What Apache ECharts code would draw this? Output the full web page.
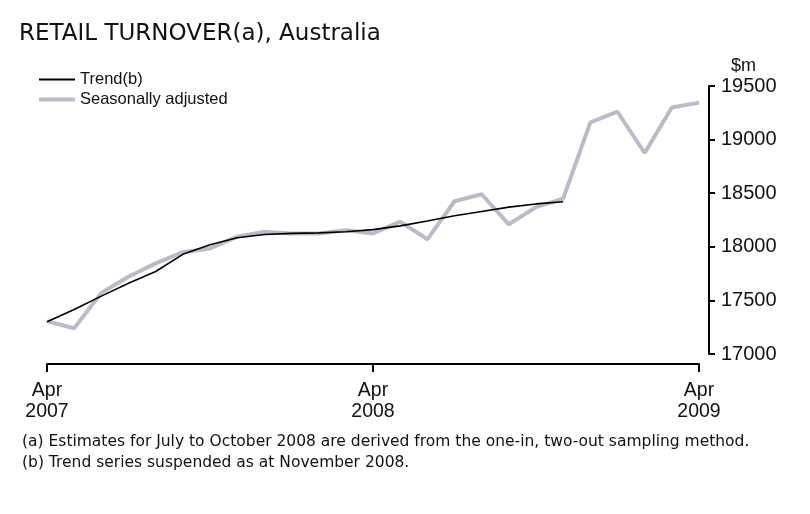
<!DOCTYPE html>
<html>
<head>
<meta charset="utf-8">
<title>Retail turnover</title>
<script src="https://cdn.jsdelivr.net/npm/echarts@6/dist/echarts.min.js"></script>
<style>
  html, body { margin: 0; padding: 0; background: #fff; }
  #main { width: 810px; height: 514px; }
</style>
</head>
<body>
<div id="main"></div>
<script type="text/javascript">
  // months, Apr 2007 .. Apr 2009
  var months = [
    'Apr 2007', 'May 2007', 'Jun 2007', 'Jul 2007', 'Aug 2007', 'Sep 2007',
    'Oct 2007', 'Nov 2007', 'Dec 2007', 'Jan 2008', 'Feb 2008', 'Mar 2008',
    'Apr 2008', 'May 2008', 'Jun 2008', 'Jul 2008', 'Aug 2008', 'Sep 2008',
    'Oct 2008', 'Nov 2008', 'Dec 2008', 'Jan 2009', 'Feb 2009', 'Mar 2009',
    'Apr 2009'
  ];
  // $m
  var seasAdj = [
    17305, 17240, 17570, 17720, 17845, 17950, 17985, 18095, 18140, 18125,
    18125, 18155, 18125, 18235, 18070, 18425, 18490, 18210, 18370, 18450,
    19160, 19260, 18875, 19300, 19345
  ];
  // trend suspended after Nov 2008
  var trend = [
    17300, 17415, 17540, 17660, 17770, 17930, 18020, 18085, 18115, 18125,
    18130, 18140, 18160, 18195, 18240, 18290, 18330, 18370, 18400, 18420,
    null, null, null, null, null
  ];
  var yTicks = [17000, 17500, 18000, 18500, 19000, 19500];

  var font = '"Liberation Sans", Arial, sans-serif';
  var noteFont = '"DejaVu Sans", sans-serif';
  var chart = echarts.init(document.getElementById('main'));

  chart.setOption({
    animation: false,
    backgroundColor: '#fff',
    title: {
      text: 'RETAIL TURNOVER(a), Australia',
      left: 14,
      top: 18,
      textStyle: { fontFamily: noteFont, fontWeight: 'normal', fontSize: 23, color: '#111' }
    },
    legend: {
      orient: 'vertical',
      left: 37,
      top: 71,
      padding: 0,
      itemWidth: 36,
      itemHeight: 12,
      itemGap: 3,
      itemStyle: { opacity: 0 },
      textStyle: { fontFamily: font, fontSize: 16.5, color: '#111' },
      data: [
        { name: 'Trend(b)', lineStyle: { width: 2 } },
        { name: 'Seasonally adjusted', lineStyle: { width: 4 } }
      ]
    },
    grid: { left: 47, right: 111, top: 86, bottom: 160 },
    xAxis: {
      type: 'category',
      data: months,
      boundaryGap: false,
      offset: 10,
      axisLine: { lineStyle: { color: '#000', width: 2 } },
      axisTick: {
        length: 8,
        lineStyle: { color: '#000', width: 2 },
        interval: function (i) { return i % 12 === 0; }
      },
      axisLabel: {
        interval: function (i) { return i % 12 === 0; },
        formatter: function (v) { return v.replace(' ', '\n'); },
        margin: 16,
        lineHeight: 21,
        fontFamily: font,
        fontSize: 19.5,
        color: '#111'
      },
      splitLine: { show: false }
    },
    yAxis: {
      type: 'value',
      position: 'right',
      offset: 10,
      min: yTicks[0],
      max: yTicks[yTicks.length - 1],
      interval: 500,
      name: '$m',
      nameLocation: 'end',
      nameGap: 11,
      nameTextStyle: { fontFamily: font, fontSize: 18, color: '#111', align: 'left', padding: [0, 0, 0, 22] },
      axisLine: { show: true, lineStyle: { color: '#000', width: 2 } },
      axisTick: { show: true, length: 6, lineStyle: { color: '#000', width: 2 } },
      axisLabel: {
        margin: 12,
        formatter: function (v) { return String(v); },
        fontFamily: font,
        fontSize: 20,
        color: '#111'
      },
      splitLine: { show: false }
    },
    series: [
      {
        name: 'Seasonally adjusted',
        type: 'line',
        data: seasAdj,
        symbol: 'none',
        z: 2,
        lineStyle: { color: '#b9bcc8', width: 4 },
        itemStyle: { color: '#b9bcc8' }
      },
      {
        name: 'Trend(b)',
        type: 'line',
        data: trend,
        symbol: 'none',
        z: 3,
        lineStyle: { color: '#000', width: 1.6 },
        itemStyle: { color: '#000' }
      }
    ],
    graphic: [
      {
        type: 'text', left: 22, top: 434,
        style: { text: '(a) Estimates for July to October 2008 are derived from the one-in, two-out sampling method.', font: '15.5px ' + noteFont, fill: '#111' }
      },
      {
        type: 'text', left: 22, top: 455,
        style: { text: '(b) Trend series suspended as at November 2008.', font: '15.5px ' + noteFont, fill: '#111' }
      }
    ]
  });
</script>
</body>
</html>
